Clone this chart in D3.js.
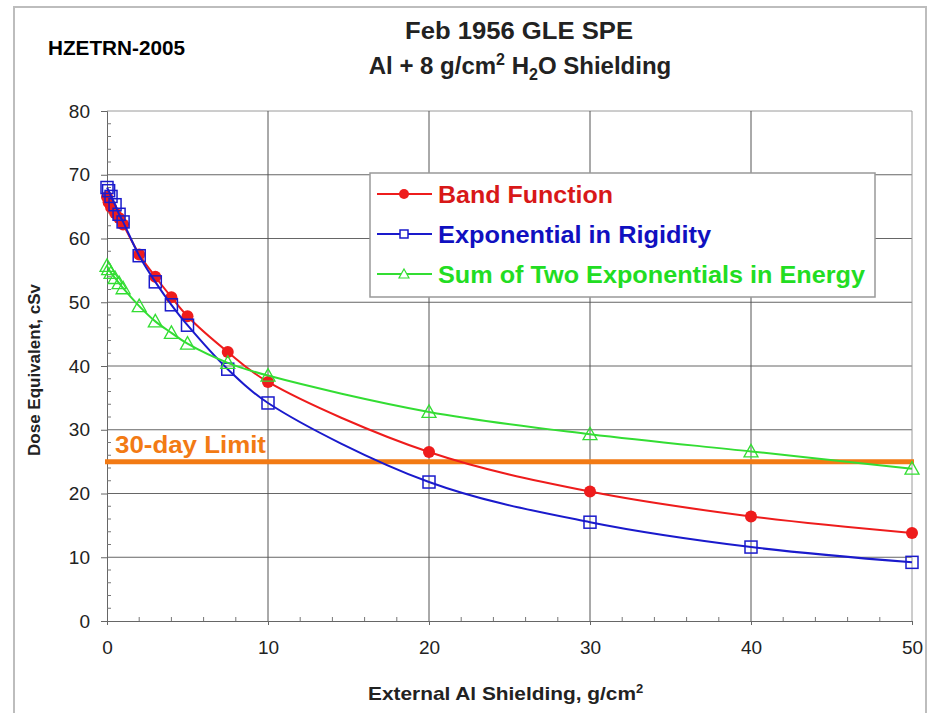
<!DOCTYPE html>
<html>
<head>
<meta charset="utf-8">
<script src="https://cdn.jsdelivr.net/npm/d3@7"></script>
<style>
  body { margin: 0; background: #fff; }
  svg { display: block; font-family: "Liberation Sans", Arial, sans-serif; }
</style>
</head>
<body>
<div id="chart"></div>
<script>
const shielding = [0, 0.1, 0.25, 0.5, 0.75, 1, 2, 3, 4, 5, 7.5, 10, 20, 30, 40, 50];
const bandFunction = [66.5, 65.7, 64.9, 64.0, 63.2, 62.2, 57.5, 54.0, 50.8, 47.8, 42.2, 37.5, 26.5, 20.3, 16.4, 13.8];
const expRigidity = [68.0, 67.5, 66.6, 65.3, 63.8, 62.6, 57.3, 53.2, 49.6, 46.4, 39.5, 34.2, 21.8, 15.5, 11.6, 9.2];
const sumTwoExp = [55.7, 55.2, 54.6, 53.8, 53.0, 52.2, 49.4, 47.0, 45.2, 43.5, 40.5, 38.5, 32.8, 29.3, 26.6, 23.9];
const seriesNames = ["Band Function", "Exponential in Rigidity", "Sum of Two Exponentials in Energy"];
const limitValue = 25;
const limitLabel = "30-day Limit";
const xTicks = [0, 10, 20, 30, 40, 50];
const yTicks = [0, 10, 20, 30, 40, 50, 60, 70, 80];

const W = 929, H = 713;
const config = { left: 107, right: 912, top: 111, bottom: 621 };

const svg = d3.select("#chart").append("svg")
  .attr("width", W)
  .attr("height", H);

// outer frame (open at the bottom)
svg.append("path")
  .attr("d", `M14,${H} V7 H926 V${H}`)
  .attr("fill", "none")
  .attr("stroke", "#bdbdbd")
  .attr("stroke-width", 2);

const x = d3.scaleLinear().domain([0, 50]).range([config.left, config.right]);
const y = d3.scaleLinear().domain([0, 80]).range([config.bottom, config.top]);

// gridlines
svg.append("g")
  .selectAll("line")
  .data(yTicks.slice(1))
  .join("line")
    .attr("x1", config.left).attr("x2", config.right)
    .attr("y1", d => y(d)).attr("y2", d => y(d))
    .attr("stroke", d => d === 80 ? "#9a9a9a" : "#666")
    .attr("stroke-width", 1);

svg.append("g")
  .selectAll("line")
  .data(xTicks.slice(1))
  .join("line")
    .attr("x1", d => x(d)).attr("x2", d => x(d))
    .attr("y1", config.top).attr("y2", config.bottom)
    .attr("stroke", d => d === 50 ? "#9a9a9a" : "#555")
    .attr("stroke-width", 1);

// axes
const yAxis = d3.axisLeft(y).tickValues(yTicks).tickSize(6).tickPadding(11);
const yAxisG = svg.append("g")
  .attr("transform", `translate(${config.left},0)`)
  .call(yAxis);
yAxisG.select(".domain").attr("stroke", "#666");
yAxisG.selectAll(".tick line").attr("stroke", "#666");
yAxisG.selectAll("text")
  .attr("font-size", 19)
  .attr("fill", "#222")
  .attr("font-family", "Liberation Sans, Arial, sans-serif");

const xAxis = d3.axisBottom(x).tickValues(xTicks).tickSize(4).tickPadding(16);
const xAxisG = svg.append("g")
  .attr("transform", `translate(0,${config.bottom})`)
  .call(xAxis);
xAxisG.select(".domain").attr("stroke", "#666");
xAxisG.selectAll(".tick line").attr("stroke", "#666");
xAxisG.selectAll("text")
  .attr("font-size", 19)
  .attr("fill", "#222")
  .attr("font-family", "Liberation Sans, Arial, sans-serif");

// minor ticks
svg.append("g")
  .selectAll("line")
  .data(d3.range(2, 80, 2).filter(d => d % 10 !== 0))
  .join("line")
    .attr("x1", config.left).attr("x2", config.left + 4)
    .attr("y1", d => y(d)).attr("y2", d => y(d))
    .attr("stroke", "#777");

svg.append("g")
  .selectAll("line")
  .data(d3.range(2, 50, 2).filter(d => d % 10 !== 0))
  .join("line")
    .attr("x1", d => x(d)).attr("x2", d => x(d))
    .attr("y1", config.bottom).attr("y2", config.bottom - 4)
    .attr("stroke", "#777");

// 30-day limit
svg.append("line")
  .attr("x1", x(0) - 2).attr("x2", x(50) + 2)
  .attr("y1", y(limitValue)).attr("y2", y(limitValue))
  .attr("stroke", "#f27a14")
  .attr("stroke-width", 5);

svg.append("text")
  .attr("x", x(0) + 8)
  .attr("y", y(limitValue) - 9)
  .attr("font-size", 24)
  .attr("font-weight", "bold")
  .attr("textLength", 151)
  .attr("lengthAdjust", "spacingAndGlyphs")
  .attr("fill", "#f27a14")
  .text(limitLabel);

// series
const series = [
  { name: seriesNames[0], values: bandFunction, color: "#ee1c1c", text: "#d81818", marker: "circle", width: 175 },
  { name: seriesNames[1], values: expRigidity, color: "#1a1acc", text: "#1010c0", marker: "square", width: 273 },
  { name: seriesNames[2], values: sumTwoExp, color: "#33dd33", text: "#22dd22", marker: "triangle", width: 427 }
];

const line = d3.line()
  .x(d => x(d[0]))
  .y(d => y(d[1]))
  .curve(d3.curveCatmullRom.alpha(0.5));

function drawMarker(g, type, color) {
  if (type === "circle") {
    g.append("circle").attr("r", 6).attr("fill", color);
  } else if (type === "square") {
    g.append("rect")
      .attr("x", -6).attr("y", -6)
      .attr("width", 12).attr("height", 12)
      .attr("fill", "none")
      .attr("stroke", color)
      .attr("stroke-width", 1.5);
  } else {
    g.append("path")
      .attr("d", "M0,-7 L7,5.5 L-7,5.5 Z")
      .attr("fill", "none")
      .attr("stroke", color)
      .attr("stroke-width", 1.3);
  }
}

series.forEach(s => {
  const pts = shielding.map((v, i) => [v, s.values[i]]);
  svg.append("path")
    .datum(pts)
    .attr("fill", "none")
    .attr("stroke", s.color)
    .attr("stroke-width", 2)
    .attr("d", line);

  svg.append("g")
    .selectAll("g")
    .data(pts)
    .join("g")
      .attr("transform", d => `translate(${x(d[0])},${y(d[1])})`)
      .each(function() { drawMarker(d3.select(this), s.marker, s.color); });
});

// legend
const legend = svg.append("g").attr("transform", "translate(370,173)");
legend.append("rect")
  .attr("width", 505)
  .attr("height", 124)
  .attr("fill", "#fff")
  .attr("stroke", "#999")
  .attr("stroke-width", 1.5);

series.forEach((s, i) => {
  const row = legend.append("g").attr("transform", `translate(0,${21 + i * 40})`);
  row.append("line")
    .attr("x1", 7).attr("x2", 62)
    .attr("stroke", s.color)
    .attr("stroke-width", 2);
  const m = row.append("g").attr("transform", "translate(34,0)");
  if (s.marker === "circle") {
    m.append("circle").attr("r", 5).attr("fill", s.color);
  } else if (s.marker === "square") {
    m.append("rect").attr("x", -4).attr("y", -4).attr("width", 8).attr("height", 8)
      .attr("fill", "#fff").attr("stroke", s.color).attr("stroke-width", 1.5);
  } else {
    m.append("path").attr("d", "M0,-5 L5,4 L-5,4 Z")
      .attr("fill", "#fff").attr("stroke", s.color).attr("stroke-width", 1.2);
  }
  row.append("text")
    .attr("x", 68)
    .attr("dy", "0.36em")
    .attr("font-size", 24)
    .attr("font-weight", "bold")
    .attr("textLength", s.width)
    .attr("lengthAdjust", "spacingAndGlyphs")
    .attr("fill", s.text)
    .text(s.name);
});

// titles
svg.append("text")
  .attr("x", 48).attr("y", 55)
  .attr("font-size", 20)
  .attr("font-weight", "bold")
  .attr("textLength", 137)
  .attr("lengthAdjust", "spacingAndGlyphs")
  .attr("fill", "#000")
  .text("HZETRN-2005");

svg.append("text")
  .attr("x", 519).attr("y", 39)
  .attr("text-anchor", "middle")
  .attr("font-size", 24)
  .attr("font-weight", "bold")
  .attr("textLength", 228)
  .attr("lengthAdjust", "spacingAndGlyphs")
  .attr("fill", "#222")
  .text("Feb 1956 GLE SPE");

const t2 = svg.append("text")
  .attr("x", 520).attr("y", 74)
  .attr("text-anchor", "middle")
  .attr("font-size", 24)
  .attr("font-weight", "bold")
  .attr("fill", "#222");
t2.append("tspan").text("Al + 8 g/cm");
t2.append("tspan").attr("dy", -9).attr("font-size", 16).text("2");
t2.append("tspan").attr("dy", 9).text(" H");
t2.append("tspan").attr("dy", 6).attr("font-size", 16).text("2");
t2.append("tspan").attr("dy", -6).text("O Shielding");

svg.append("text")
  .attr("transform", `translate(40,${(config.top + config.bottom) / 2 + 4}) rotate(-90)`)
  .attr("text-anchor", "middle")
  .attr("font-size", 17)
  .attr("font-weight", "bold")
  .attr("fill", "#222")
  .text("Dose Equivalent, cSv");

const xt = svg.append("text")
  .attr("x", 368).attr("y", 700)
  .attr("font-size", 19)
  .attr("font-weight", "bold")
  .attr("fill", "#222");
xt.append("tspan")
  .attr("textLength", 268)
  .attr("lengthAdjust", "spacingAndGlyphs")
  .text("External Al Shielding, g/cm");
xt.append("tspan").attr("dy", -7).attr("font-size", 13).text("2");
</script>
</body>
</html>
